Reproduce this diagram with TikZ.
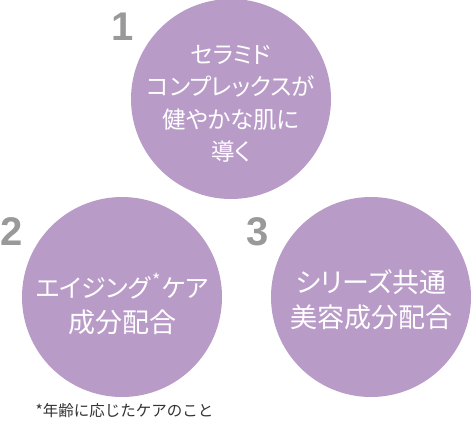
\documentclass[tikz,border=0pt]{standalone}
\usepackage{fontspec}
\setmainfont{Noto Sans CJK JP}[RawFeature=+palt]
\newfontfamily\numfont{Liberation Sans}
\newfontfamily\notefont{Noto Sans CJK JP}
\definecolor{circlepurple}{HTML}{B99BC8}
\definecolor{numgray}{HTML}{999999}
\definecolor{notegray}{HTML}{333333}
\begin{document}
\begin{tikzpicture}[x=1pt,y=-1pt,
  bubble/.style={circle,fill=circlepurple,minimum size=200pt,inner sep=0pt},
  bubbletext/.style={text=white,align=center},
  numlabel/.style={text=numgray,font=\numfont\bfseries\fontsize{40}{40}\selectfont,inner sep=0pt}]
\useasboundingbox (0,0) rectangle (471,428);
\node[bubble] (c1) at (231,99) {};
\node[bubble] (c2) at (122,297) {};
\node[bubble] (c3) at (371,297) {};
\node[bubbletext,font=\fontsize{23.5}{32.5}\selectfont] (t1) at (231,104) {セラミド\\コンプレックスが\\健やかな肌に\\導く};
\node[bubbletext,font=\fontsize{27}{35}\selectfont] (t2) at (122,304) {{\fontsize{25}{35}\selectfont エイジング\hspace{1.5pt}\raisebox{0.42em}{\fontsize{18}{18}\selectfont *}\hspace{1pt}ケア}\\成分配合};
\node[bubbletext,font=\fontsize{27}{35}\selectfont] (t3) at (371,300) {シリーズ共通\\美容成分配合};
\node[numlabel] (n1) at (123,27) {1};
\node[numlabel] (n2) at (12,232) {2};
\node[numlabel] (n3) at (258,232) {3};
\node[text=notegray,font=\notefont\fontsize{15.5}{17}\selectfont,inner sep=0pt] (note) at (124.5,411) {*年齢に応じたケアのこと};
\end{tikzpicture}
\end{document}
